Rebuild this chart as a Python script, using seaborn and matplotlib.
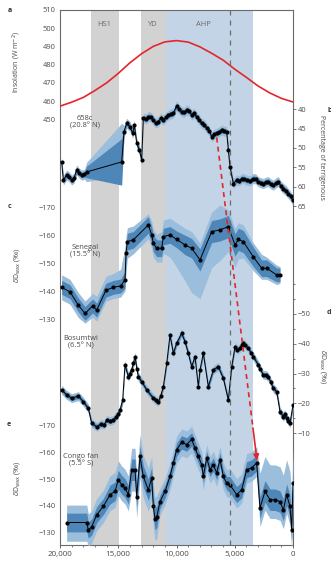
import numpy as np
import pandas as pd
import matplotlib
matplotlib.use("Agg")
import matplotlib.pyplot as plt
import seaborn as sns
from matplotlib.ticker import FuncFormatter, MultipleLocator

# ---------------- data ----------------
# shaded intervals (years BP)
hs1_span = [17300, 14900]
yd_span = [13050, 10900]
ahp_span = [10900, 3450]
dash_year = 5400

# (a) insolation
ins_yr = [20000, 19000, 18000, 17000, 16000, 15000, 14000, 13000, 12000, 11000,
          10000, 9000, 8000, 7000, 6000, 5000, 4000, 3000, 2000, 1000, 0]
ins_val = [457.2, 459.4, 462.0, 465.8, 470.0, 475.2, 481.0, 486.0, 490.0, 492.5,
           493.2, 492.4, 489.8, 486.3, 482.5, 477.5, 473.0, 468.3, 464.5, 461.5, 459.5]

# (b) 658c terrigenous percentage
b_yr = [19858, 19715, 19428, 19200, 18999, 18800, 18570, 18350, 18140, 17900,
        17712, 14705, 14506, 14277, 13990, 13762, 13620, 13415, 13190, 12990,
        12850, 12600, 12420, 12200, 11990, 11800, 11560, 11350, 11130, 10900,
        10703, 10500, 10270, 9990, 9800, 9560, 9350, 9130, 8900, 8700,
        8500, 8270, 8050, 7840, 7600, 7410, 7200, 6980, 6800, 6550,
        6350, 6120, 5900, 5695, 5552, 5410, 5124, 4835, 4600, 4407,
        4200, 3977, 3700, 3407, 3200, 2978, 2750, 2550, 2300, 2120,
        1900, 1690, 1450, 1260, 1050, 830, 600, 402, 200, 30]
b_val = [53.6, 58.3, 57.0, 57.5, 58.3, 57.8, 55.7, 56.5, 57.0, 56.8,
         56.2, 53.6, 45.8, 43.6, 44.5, 46.2, 44.1, 48.8, 50.5, 53.1,
         42.3, 42.5, 41.9, 42.0, 42.8, 43.5, 43.2, 42.3, 42.8, 42.0,
         41.5, 41.2, 41.0, 39.1, 40.0, 40.6, 40.8, 40.2, 40.5, 41.5,
         41.0, 41.9, 42.8, 43.6, 44.0, 44.9, 45.5, 47.1, 46.5, 46.2,
         45.8, 45.4, 45.6, 45.8, 50.5, 54.9, 59.2, 58.3, 58.5, 57.9,
         58.0, 58.3, 58.5, 57.9, 58.0, 58.7, 59.0, 59.2, 58.8, 58.7,
         59.3, 59.6, 59.0, 58.7, 59.8, 60.5, 61.0, 61.8, 62.5, 63.5]
b_out = 1.3
b_inner = 0.7
# widened uncertainty across the sampling gap: year -> (outer up, outer down, inner)
b_gap = {17712: (2.5, 2.5, 1.5), 14705: (10.0, 3.5, 6.0), 14506: (1.6, 1.6, 0.8)}

# (c) Senegal dD_wax
c_yr = [19858, 19142, 18427, 17854, 17195, 16853, 16051, 15423, 14793, 14420,
        14335, 14220, 13707, 12420, 12130, 11990, 11700, 11270, 11130, 10560,
        9990, 9270, 8700, 7982, 6980, 6265, 5550, 4978, 4690, 4265,
        3407, 2690, 2260, 1400, 1116]
c_val = [-141.4, -139.8, -135.0, -132.0, -134.7, -133.2, -140.4, -141.4, -141.9, -144.1,
         -153.7, -157.9, -158.5, -163.9, -160.3, -157.3, -155.5, -155.5, -159.7, -160.3,
         -158.7, -156.7, -155.5, -151.3, -161.5, -162.1, -163.3, -156.7, -158.7, -157.9,
         -152.4, -148.3, -148.3, -145.9, -145.9]
c_in = [2.5, 2.5, 2.5, 2.5, 2.5, 2.5, 2.5, 2.5, 2.5, 3.0,
        3.0, 3.0, 3.0, 3.0, 3.0, 3.0, 3.0, 3.0, 3.0, 3.0,
        3.0, 3.5, 3.5, 4.0, 4.0, 4.0, 4.0, 4.0, 4.0, 4.0,
        3.5, 3.0, 3.0, 2.5, 2.5]
c_up = [4.5, 4.5, 4.5, 4.5, 4.5, 5.0, 5.0, 5.0, 6.0, 12.0,
        6.0, 5.0, 5.0, 4.0, 5.0, 5.0, 5.0, 6.0, 6.0, 6.0,
        6.0, 6.0, 6.0, 6.0, 7.0, 9.0, 6.0, 6.0, 6.0, 6.0,
        5.0, 5.0, 4.0, 3.5, 3.0]
c_dn = [4.5, 4.5, 4.5, 3.5, 4.0, 4.0, 4.0, 4.0, 4.0, 4.0,
        7.0, 6.0, 5.0, 5.0, 5.0, 5.0, 5.0, 5.0, 6.0, 8.0,
        10.0, 13.0, 16.0, 14.0, 13.0, 11.0, 9.0, 8.0, 7.0, 6.0,
        5.0, 4.0, 4.0, 3.5, 3.0]

# (d) Bosumtwi dD_wax
d_yr = [19858, 19428, 18999, 18427, 17998, 17570, 17283, 16853, 16500, 16200,
        15995, 15700, 15423, 15200, 15000, 14850, 14620, 14420, 14134, 14000,
        13848, 13700, 13562, 13400, 13275, 12990, 12560, 11990, 11800, 11560,
        11350, 11130, 10840, 10560, 10270, 9990, 9560, 9270, 8987, 8700,
        8412, 8130, 7982, 7700, 7270, 6840, 6410, 5980, 5553, 5260,
        4978, 4800, 4549, 4400, 4265, 4100, 3835, 3600, 3407, 2978,
        2800, 2550, 2350, 2120, 1900, 1690, 1400, 1116, 830, 700,
        545, 400, 258, 0]
d_val = [-24.5, -22.8, -21.7, -22.4, -20.5, -18.3, -13.3, -12.1, -13.0, -12.8,
         -14.4, -14.0, -14.4, -15.5, -16.5, -17.7, -21.1, -32.9, -28.9, -30.0,
         -31.2, -33.5, -35.7, -31.5, -28.9, -27.3, -24.5, -21.7, -21.0, -20.5,
         -22.5, -25.6, -33.4, -42.9, -36.8, -40.2, -43.5, -40.7, -36.8, -32.3,
         -35.7, -25.6, -31.2, -36.8, -25.6, -31.2, -32.3, -28.4, -21.1, -32.3,
         -39.0, -38.0, -38.5, -39.5, -40.2, -39.5, -38.5, -37.0, -35.7, -32.9,
         -31.5, -29.5, -29.5, -28.9, -27.0, -25.0, -23.9, -17.2, -15.5, -16.3,
         -15.0, -14.0, -13.3, -19.4]
d_out = 1.5
d_inner = 0.8

# (e) Congo fan dD_wax
e_yr = [19430, 17700, 17570, 17283, 16853, 16280, 15710, 15280, 14995, 14705,
        14420, 14134, 13848, 13562, 13415, 13133, 12850, 12420, 12130, 11990,
        11845, 11700, 11416, 10987, 10560, 10270, 9990, 9560, 9130, 8700,
        8412, 8130, 7840, 7700, 7410, 7124, 6840, 6550, 6266, 5980,
        5695, 5410, 4835, 4407, 3977, 3550, 3120, 2834, 2405, 1975,
        1545, 1116, 830, 545, 258, 115, 0]
e_val = [-133.8, -133.8, -131.0, -132.1, -136.7, -139.8, -144.2, -145.4, -149.8, -147.9,
         -146.7, -144.2, -153.5, -153.5, -143.5, -158.5, -151.0, -146.0, -150.4, -139.8,
         -135.1, -135.8, -141.6, -145.4, -151.0, -156.0, -161.0, -163.7, -162.9, -164.8,
         -161.6, -158.5, -155.4, -151.0, -157.9, -153.5, -155.4, -152.3, -157.3, -151.0,
         -148.5, -147.9, -144.2, -146.0, -153.5, -154.2, -156.0, -139.2, -145.4, -142.3,
         -142.3, -141.6, -138.5, -144.2, -139.8, -131.0, -148.5]
e_in = [3.5, 3.5, 3, 3, 3, 3, 3.5, 3.5, 3.5, 3.5,
        3.5, 3.5, 4, 4, 4, 4, 4, 4, 4, 4,
        4, 4, 2.5, 2.5, 2.5, 2.5, 2.5, 2.5, 2.5, 2.5,
        2.5, 2.5, 2.5, 2.5, 2.5, 2.5, 2.5, 2.5, 2.5, 2.5,
        2.5, 3, 3, 3, 3, 3, 3, 4, 4, 4,
        4, 4, 4, 4, 4, 4, 4]
e_up = [6.5, 6.5, 6, 6, 6, 6, 7, 7, 7, 7,
        7, 7, 8, 8, 8, 8, 8, 8, 8, 8,
        8, 8, 5, 5, 5, 5, 5, 5, 5, 5,
        5, 5, 5, 5, 5, 5, 5, 5, 5, 5,
        5, 6, 6, 6, 6, 6, 6, 13, 13, 13,
        13, 13, 13, 13, 13, 13, 13]
e_dn = [7, 7, 6, 6, 6, 6, 6, 6, 6, 6,
        6, 6, 8, 8, 8, 8, 8, 8, 8, 8,
        8, 8, 5, 5, 5, 5, 5, 5, 5, 5,
        5, 5, 5, 5, 5, 5, 5, 5, 5, 5,
        5, 5, 5, 5, 5, 5, 5, 7, 7, 7,
        7, 7, 7, 7, 7, 7, 7]

# ---------------- style ----------------
sns.set_style("white")
plt.rcParams['font.family'] = ['Open Sans', 'DejaVu Sans']
plt.rcParams['mathtext.fontset'] = 'dejavusans'

TXT = '#4a4a4a'
GRAY = '#d2d2d2'
AHP = '#c2d4e6'
DARK = '#4f86b8'
LIGHT = '#9bbedc'
RED = '#e4262c'
FS = 5.4

W, H = 331, 564
fig = plt.figure(figsize=(W / 100, H / 100), dpi=100)
L, R, T, B = 60, 293, 10, 545
rect = [L / W, 1 - B / H, (R - L) / W, (B - T) / H]


def ylim_from(v1, p1, v2, p2):
    s = (v2 - v1) / (p2 - p1)
    return v1 + (B - p1) * s, v1 + (T - p1) * s


# background axes with shaded intervals and frame
bg = fig.add_axes(rect)
bg.set_xlim(20000, 0)
bg.set_ylim(0, 1)
bg.axvspan(*hs1_span, color=GRAY, lw=0)
bg.axvspan(*yd_span, color=GRAY, lw=0)
bg.axvspan(*ahp_span, color=AHP, lw=0)
for s in bg.spines.values():
    s.set_color('#6a6a6a')
    s.set_linewidth(0.8)
bg.set_yticks([])
bg.set_xticks([20000, 15000, 10000, 5000, 0])
bg.xaxis.set_minor_locator(MultipleLocator(1000))
bg.xaxis.set_major_formatter(FuncFormatter(lambda v, p: f"{int(v):,}"))
bg.tick_params(axis='x', which='major', length=2.5, width=0.6, labelsize=5.8,
               colors=TXT, pad=1.5, bottom=True)
bg.tick_params(axis='x', which='minor', length=1.5, width=0.5, colors=TXT, bottom=True)
bg.grid(False)


def panel(ylim, side, ticks, minor=None):
    ax = fig.add_axes(rect)
    ax.patch.set_alpha(0)
    ax.set_xlim(20000, 0)
    ax.set_ylim(*ylim)
    for s in ax.spines.values():
        s.set_visible(False)
    ax.set_xticks([])
    ax.set_yticks(ticks)
    if minor is not None:
        ax.set_yticks(minor, minor=True)
    if side == 'right':
        ax.yaxis.tick_right()
    ax.tick_params(axis='y', which='major', length=2, width=0.5, labelsize=FS,
                   colors=TXT, pad=1.2)
    ax.tick_params(axis='y', which='minor', length=1.3, width=0.5, colors=TXT)
    ax.yaxis.set_major_formatter(FuncFormatter(lambda v, p: f"{int(round(v))}".replace('-', '\u2212')))
    ax.grid(False)
    return ax


def series(ax, yr, val, up, dn, inner):
    yr = np.asarray(yr, float)
    val = np.asarray(val, float)
    up = np.broadcast_to(np.asarray(up, float), val.shape)
    dn = np.broadcast_to(np.asarray(dn, float), val.shape)
    inner = np.broadcast_to(np.asarray(inner, float), val.shape)
    ax.fill_between(yr, val - up, val + dn, color=LIGHT, lw=0)
    ax.fill_between(yr, val - inner, val + inner, color=DARK, lw=0)
    df = pd.DataFrame({'yr': yr, 'val': val})
    sns.lineplot(data=df, x='yr', y='val', ax=ax, color='black', lw=0.7,
                 marker='o', markersize=3.0, markeredgewidth=0, estimator=None,
                 sort=False)
    ax.set_xlabel('')
    ax.set_ylabel('')
    ax.set_xlim(20000, 0)


# (a) insolation
ax_a = panel(ylim_from(510, 10, 450, 119.3), 'left', [450, 460, 470, 480, 490, 500, 510])
sns.lineplot(x=ins_yr, y=ins_val, ax=ax_a, color=RED, lw=1.2, estimator=None)
ax_a.set_xlim(20000, 0)

# (b) 658c
ax_b = panel(ylim_from(40, 109.3, 65, 206), 'right', [40, 45, 50, 55, 60, 65])
b_up = [b_gap.get(y, (b_out, b_out, b_inner))[0] for y in b_yr]
b_dn = [b_gap.get(y, (b_out, b_out, b_inner))[1] for y in b_yr]
b_in = [b_gap.get(y, (b_out, b_out, b_inner))[2] for y in b_yr]
series(ax_b, b_yr, b_val, b_up, b_dn, b_in)

# (c) Senegal
ax_c = panel(ylim_from(-170, 208, -130, 319), 'left', [-170, -160, -150, -140, -130])
series(ax_c, c_yr, c_val, c_up, c_dn, c_in)

# (d) Bosumtwi
ax_d = panel(ylim_from(-50, 314, -10, 433), 'right', [-50, -40, -30, -20, -10],
             minor=[-60, -55, -45, -35, -25, -15])
series(ax_d, d_yr, d_val, d_out, d_out, d_inner)

# (e) Congo fan
ax_e = panel(ylim_from(-170, 425.5, -130, 532.7), 'left', [-170, -160, -150, -140, -130])
series(ax_e, e_yr, e_val, e_up, e_dn, e_in)

# overlay: dashed line and arrow
ov = fig.add_axes(rect)
ov.patch.set_alpha(0)
ov.set_xlim(20000, 0)
ov.set_ylim(0, 1)
ov.axis('off')
ov.axvline(dash_year, color='#6e6e6e', lw=0.9, ls=(0, (4, 4)))
x0, y0, x1, y1 = 6549, 0.7616, 3090, 0.1583
t = 0.9
xm, ym = x0 + t * (x1 - x0), y0 + t * (y1 - y0)
ov.plot([x0, xm], [y0, ym], color=RED, lw=1.2, ls=(0, (3, 2.5)))
ov.annotate('', xy=(x1, y1), xytext=(xm, ym),
            arrowprops=dict(arrowstyle='-|>', color=RED, lw=1.2,
                            mutation_scale=8, shrinkA=0, shrinkB=0))


def ftext(x, y, s, **kw):
    kw.setdefault('color', TXT)
    kw.setdefault('fontsize', FS)
    kw.setdefault('ha', 'center')
    kw.setdefault('va', 'center')
    fig.text(x / W, 1 - y / H, s, **kw)


# interval labels
ftext(104, 24.5, 'HS1', color='#6a6a6a')
ftext(152, 24.5, 'YD', color='#6a6a6a')
ftext(203, 24.5, 'AHP', color='#6a6a6a')

# site labels
ftext(85, 122, '658c\n(20.8° N)', linespacing=1.1)
ftext(85, 251, 'Senegal\n(15.5° N)', linespacing=1.1)
ftext(81, 342, 'Bosumtwi\n(6.5° N)', linespacing=1.1)
ftext(81, 460, 'Congo fan\n(5.5° S)', linespacing=1.1)

# axis titles
ftext(17, 62, 'Insolation (W m$^{-2}$)', rotation=90, fontsize=5)
ftext(322, 157, 'Percentage of terrigenous', rotation=270, fontsize=5)
ftext(17, 265, r'$\delta$D$_{\rm wax}$ (‰)', rotation=90, fontsize=5)
ftext(323, 367, r'$\delta$D$_{\rm wax}$ (‰)', rotation=270, fontsize=5)
ftext(17, 478, r'$\delta$D$_{\rm wax}$ (‰)', rotation=90, fontsize=5)

# panel letters
ftext(10, 10, 'a', fontweight='bold', color='#333333', fontsize=5)
ftext(9, 207, 'c', fontweight='bold', color='#333333', fontsize=5)
ftext(9, 424, 'e', fontweight='bold', color='#333333', fontsize=5)
ftext(330, 110, 'b', fontweight='bold', color='#333333', fontsize=5)
ftext(329, 312, 'd', fontweight='bold', color='#333333', fontsize=5)

fig.savefig('out.png', dpi=100)
